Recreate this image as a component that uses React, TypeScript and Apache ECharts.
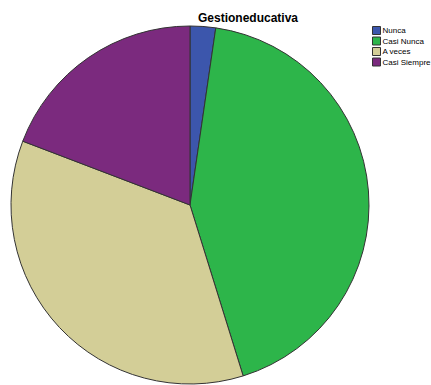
import React, { useEffect, useRef } from "react";
import * as echarts from "echarts";

const categories = ["Nunca", "Casi Nunca", "A veces", "Casi Siempre"];
const values = [2.3, 42.9, 35.6, 19.2];
const colors = ["#3C56AC", "#2DB54A", "#D3CE97", "#7B2A7E"];
const titleText = "Gestioneducativa";

export default function App() {
  const ref = useRef<HTMLDivElement>(null);
  useEffect(() => {
    if (!ref.current) return;
    const chart = echarts.init(ref.current, undefined, { renderer: "svg" });
    chart.setOption({
      animation: false,
      backgroundColor: "#ffffff",
      title: {
        text: titleText,
        left: 243,
        top: 7,
        textAlign: "center",
        textStyle: { fontFamily: "Liberation Sans, Arial", fontWeight: "bold", fontSize: 12, color: "#000" },
      },
      legend: {
        orient: "vertical",
        left: 372,
        top: 26,
        padding: 0,
        itemWidth: 8,
        itemHeight: 8,
        itemGap: 1.5,
        icon: "rect",
        data: categories,
        textStyle: { fontFamily: "Liberation Sans, Arial", fontSize: 8, color: "#000", padding: [0, 0, 0, -3] },
        itemStyle: { borderColor: "#333", borderWidth: 1 },
      },
      series: [
        {
          type: "pie",
          center: [190, 205],
          radius: 179,
          startAngle: 90,
          clockwise: true,
          label: { show: false },
          labelLine: { show: false },
          emphasis: { disabled: true },
          itemStyle: { borderColor: "#333", borderWidth: 1 },
          data: categories.map((c, i) => ({ name: c, value: values[i], itemStyle: { color: colors[i] } })),
        },
      ],
    });
    return () => chart.dispose();
  }, []);
  return <div ref={ref} style={{ position: "fixed", left: 0, top: 0, width: 431, height: 385 }} />;
}
